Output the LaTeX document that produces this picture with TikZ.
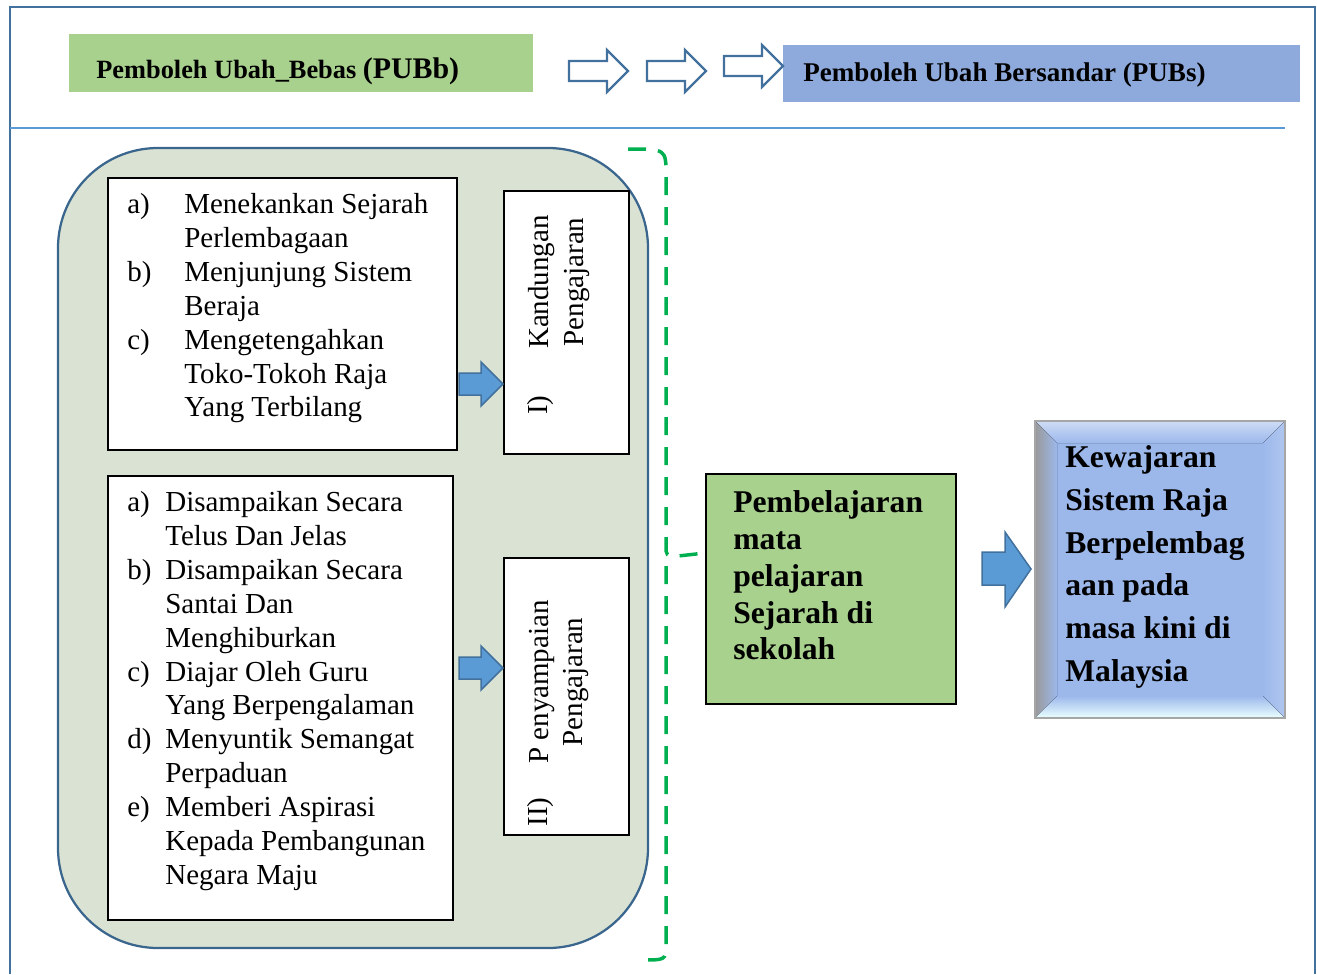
\documentclass[tikz,border=0pt]{standalone}
\usepackage{fontspec}
\setmainfont{Liberation Serif}
\usetikzlibrary{positioning}

\definecolor{frameblue}{RGB}{65,113,156}
\definecolor{lineblue}{RGB}{91,155,213}
\definecolor{leafgreen}{RGB}{169,209,142}
\definecolor{softblue}{RGB}{142,169,219}
\definecolor{panelgrey}{RGB}{218,227,211}
\definecolor{bracegreen}{RGB}{0,176,80}
\definecolor{bevelblue}{RGB}{156,184,235}

\newcommand{\lbla}[1]{\makebox[11.4mm][l]{#1}}
\newcommand{\lblb}[1]{\makebox[7.6mm][l]{#1}}

\begin{document}
\begin{tikzpicture}[x=0.2mm,y=-0.2mm,
    listbox/.style={draw=black,fill=white,line width=0.3mm,anchor=north west,inner sep=0pt},
    listtext/.style={anchor=north west,inner sep=0pt,align=left,font=\fontsize{16.5}{19.3}\selectfont},
    sidetext/.style={rotate=90,inner sep=0pt,align=center,font=\fontsize{16.5}{19.8}\selectfont},
    boldtext/.style={anchor=north west,inner sep=0pt,align=left,font=\bfseries},
    headbox/.style={anchor=north west,inner sep=0pt},
    hollowarrow/.style={draw=frameblue,fill=white,line width=0.45mm},
    solidarrow/.style={draw=frameblue,fill=lineblue,line width=0.3mm},
    brace/.style={draw=bracegreen,line width=0.7mm,dash pattern=on 3.6mm off 2.4mm}]
    \useasboundingbox (0,0) rectangle (1317,974);
    \draw[frameblue,line width=0.5mm] (10,974) -- (10,7) -- (1315,7) -- (1315,974);
    \draw[lineblue,line width=0.3mm] (10,128) -- (1285,128);

    \node[headbox,fill=leafgreen,minimum width=92.8mm,minimum height=11.6mm] (pubb) at (69,34) {};
    \node[anchor=base west,inner sep=0pt] (pubbteks) at (96,78)
      {\fontsize{15}{17}\selectfont\bfseries Pemboleh Ubah\_Bebas {\fontsize{17}{17}\selectfont(PUBb)}};
    \node[headbox,fill=softblue,minimum width=103.4mm,minimum height=11.4mm] (pubs) at (783,45) {};
    \node[anchor=base west,inner sep=0pt] (pubsteks) at (803,81)
      {\fontsize{15.4}{17}\selectfont\bfseries Pemboleh Ubah Bersandar (PUBs)};
    \foreach \x/\y in {569/71,647/71,724/66}
     {\draw[hollowarrow] (\x,\y-10) -- ++(38,0) -- ++(0,-11) -- ++(21,21) -- ++(-21,21)
       -- ++(0,-11) -- ++(-38,0) -- cycle;}

    \draw[frameblue!90!black,fill=panelgrey,line width=0.45mm,rounded corners=20mm] (58,148) rectangle (648,948);

    \node[listbox,minimum width=69.8mm,minimum height=54.4mm] (isibox) at (107,177) {};
    \node[listtext] (isi) at (127,193)
      {\lbla{a)}Menekankan Sejarah\\ \lbla{}Perlembagaan\\
       \lbla{b)}Menjunjung Sistem\\ \lbla{}Beraja\\
       \lbla{c)}Mengetengahkan\\ \lbla{}Toko-Tokoh Raja\\ \lbla{}Yang Terbilang};
    \node[listbox,minimum width=69mm,minimum height=88.8mm] (carabox) at (107,475) {};
    \node[listtext] (cara) at (127,491)
      {\lblb{a)}Disampaikan Secara\\ \lblb{}Telus Dan Jelas\\
       \lblb{b)}Disampaikan Secara\\ \lblb{}Santai Dan\\ \lblb{}Menghiburkan\\
       \lblb{c)}Diajar Oleh Guru\\ \lblb{}Yang Berpengalaman\\
       \lblb{d)}Menyuntik Semangat\\ \lblb{}Perpaduan\\
       \lblb{e)}Memberi Aspirasi\\ \lblb{}Kepada Pembangunan\\ \lblb{}Negara Maju};

    \node[listbox,minimum width=25mm,minimum height=52.6mm] (kandbox) at (503,190) {};
    \node[sidetext] (kandno) at (541,405) {I)};
    \node[sidetext] (kand) at (559,282) {Kandungan\\Pengajaran};
    \node[listbox,minimum width=25mm,minimum height=55.4mm] (penybox) at (503,557) {};
    \node[sidetext] (penyno) at (541,812) {II)};
    \node[sidetext] (peny) at (559,682) {P enyampaian\\Pengajaran};
    \foreach \y in {384,668}
     {\draw[solidarrow] (459,\y-11) -- (481,\y-11) -- (481,\y-22) -- (503,\y) -- (481,\y+22)
       -- (481,\y+11) -- (459,\y+11) -- cycle;}

    \node[draw=black,fill=leafgreen,line width=0.3mm,anchor=north west,minimum width=50mm,
      minimum height=46mm,inner sep=0pt] (belajar) at (705,473) {};
    \node[boldtext,font=\fontsize{18}{21}\selectfont\bfseries] (belajarteks) at (733,490)
      {Pembelajaran\\mata\\pelajaran\\Sejarah di\\sekolah};
    \coordinate (sambung) at ([yshift=-16mm]belajar.north west);
    \draw[brace] (628,149) .. controls (666,149) .. (666,175) -- (666,545)
      .. controls (666,556) .. (678,556) -- (sambung);
    \draw[brace] (666,566) -- (666,945) .. controls (666,960) .. (640,960);

    \draw[solidarrow] (982,552) -- (1005,552) -- (1005,532) -- (1031,569) -- (1005,607)
      -- (1005,585) -- (982,585) -- cycle;
    \fill[bevelblue] (1035,421) rectangle (1285,718);
    \fill[top color=bevelblue!50!white,bottom color=bevelblue] (1035,421) -- (1285,421) -- (1263,443) -- (1057,443) -- cycle;
    \fill[left color=black!40,right color=bevelblue] (1035,421) -- (1057,443) -- (1057,696) -- (1035,718) -- cycle;
    \fill[top color=bevelblue,bottom color=cyan!8!white] (1035,718) -- (1057,696) -- (1263,696) -- (1285,718) -- cycle;
    \fill[left color=bevelblue,right color=bevelblue!80!white] (1285,421) -- (1263,443) -- (1263,696) -- (1285,718) -- cycle;
    \draw[black!35,line width=0.4mm] (1035,421) rectangle (1285,718);
    \node[boldtext,font=\fontsize{18}{24.4}\selectfont\bfseries] (wajar) at (1065,445)
      {Kewajaran\\Sistem Raja\\Berpelembag\\aan pada\\masa kini di\\Malaysia};
\end{tikzpicture}
\end{document}
